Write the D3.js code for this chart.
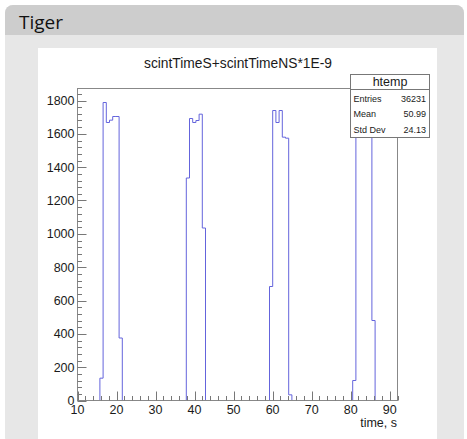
<!DOCTYPE html>
<html><head><meta charset="utf-8">
<script src="https://cdn.jsdelivr.net/npm/d3@7"></script>
<style>
html,body{margin:0;padding:0;background:#fff;}
svg{display:block;}
</style></head>
<body>
<script>
// ---- data ----
const panelTitle = "Tiger";
const histTitle = "scintTimeS+scintTimeNS*1E-9";
const histName = "htemp";
const xAxisTitle = "time, s";
const xMin = 10, xMax = 92, nBins = 100;
// nonzero bins: index and count
const binIndex = [7, 8, 9, 10, 11, 12, 13,
                  34, 35, 36, 37, 38, 39,
                  60, 61, 62, 63, 64, 65, 66,
                  86, 87, 88, 89, 90, 91, 92];
const binCount = [134, 1788, 1668, 1682, 1704, 1704, 375,
                  1335, 1692, 1668, 1680, 1718, 1035,
                  684, 1740, 1668, 1740, 1580, 1574, 34,
                  120, 1700, 1670, 1690, 1665, 1704, 480];
const statLabels = ["Entries", "Mean", "Std Dev"];
const statValues = ["36231", "50.99", "24.13"];
const xTickValues = [10, 20, 30, 40, 50, 60, 70, 80, 90];
const yTickValues = [0, 200, 400, 600, 800, 1000, 1200, 1400, 1600, 1800];
const yMax = 1872;

const W = 467, H = 439;
const svg = d3.select("body").append("svg").attr("width", W).attr("height", H);

// panel
svg.append("rect").attr("x", 5).attr("y", 5).attr("width", 459).attr("height", 440)
  .attr("rx", 8).attr("fill", "#e7e7e7");
svg.append("path").attr("d", "M5,35 V13 A8,8 0 0 1 13,5 H456 A8,8 0 0 1 464,13 V35 Z").attr("fill", "#cdcdcd");
svg.append("text").attr("x", 19).attr("y", 29).text(panelTitle)
  .attr("font-family", "Open Sans, sans-serif").attr("font-size", 19).attr("fill", "#111");
svg.append("rect").attr("x", 38).attr("y", 48).attr("width", 399).attr("height", 400).attr("fill", "#fff");

// plot frame
const L = 77.5, R = 397.5, T = 88.5, B = 400.5;
const x = d3.scaleLinear().domain([xMin, xMax]).range([L, R]);
const y = d3.scaleLinear().domain([0, yMax]).range([B, T]);
const font = "Liberation Sans, Arial, sans-serif";

// histogram
const counts = new Array(nBins).fill(0);
binIndex.forEach((b, i) => counts[b] = binCount[i]);
const bw = (xMax - xMin) / nBins;
let pts = [[x(xMin), y(0)]];
counts.forEach((c, i) => {
  const x0 = x(xMin + i * bw), x1 = x(xMin + (i + 1) * bw);
  pts.push([x0, y(c)]); pts.push([x1, y(c)]);
});
pts.push([x(xMax), y(0)]);
svg.append("path").attr("d", d3.line()(pts)).attr("fill", "none")
  .attr("stroke", "#6464dc").attr("stroke-width", 1);

// frame
svg.append("rect").attr("x", L).attr("y", T).attr("width", R - L).attr("height", B - T)
  .attr("fill", "none").attr("stroke", "#888").attr("stroke-width", 1);

// y axis ticks
const yMinor = d3.range(0, yMax, 40);
svg.append("g").selectAll("line").data(yMinor).join("line")
  .attr("x1", L).attr("x2", d => L + (d % 200 === 0 ? 9 : 4.5))
  .attr("y1", d => Math.round(y(d)) + 0.5).attr("y2", d => Math.round(y(d)) + 0.5)
  .attr("stroke", "#777");
svg.append("g").selectAll("text").data(yTickValues).join("text")
  .attr("x", 74.5).attr("y", d => y(d)).attr("dy", "0.36em").attr("text-anchor", "end")
  .attr("font-family", font).attr("font-size", 12.5).attr("fill", "#1a1a1a").text(d => d);

// x axis ticks
const xMinor = d3.range(10, xMax + 0.01, 2);
svg.append("g").selectAll("line").data(xMinor).join("line")
  .attr("x1", d => Math.round(x(d)) + 0.5).attr("x2", d => Math.round(x(d)) + 0.5)
  .attr("y1", B).attr("y2", d => B - (d % 10 === 0 ? 9 : 4.5))
  .attr("stroke", "#777");
svg.append("g").selectAll("text").data(xTickValues).join("text")
  .attr("x", d => x(d)).attr("y", 414).attr("text-anchor", "middle")
  .attr("font-family", font).attr("font-size", 12.5).attr("fill", "#1a1a1a").text(d => d);
svg.append("text").attr("x", 397).attr("y", 426.5).attr("text-anchor", "end")
  .attr("font-family", font).attr("font-size", 12.5).attr("fill", "#1a1a1a").text(xAxisTitle);

// title
svg.append("text").attr("x", 238).attr("y", 68.3).attr("text-anchor", "middle")
  .attr("font-family", font).attr("font-size", 13.8).attr("fill", "#1a1a1a").text(histTitle);

// stats box
const sb = {x: 350.5, y: 74.5, w: 79, h: 63};
svg.append("rect").attr("x", sb.x).attr("y", sb.y).attr("width", sb.w).attr("height", sb.h)
  .attr("fill", "#fff").attr("stroke", "#777");
svg.append("line").attr("x1", sb.x).attr("x2", sb.x + sb.w).attr("y1", 89.5).attr("y2", 89.5).attr("stroke", "#777");
svg.append("text").attr("x", sb.x + sb.w / 2).attr("y", 86).attr("text-anchor", "middle")
  .attr("font-family", font).attr("font-size", 12.5).attr("fill", "#1a1a1a").text(histName);
const rowY = [101.5, 117.3, 133.2];
svg.append("g").selectAll("text").data(statLabels).join("text")
  .attr("x", 353.5).attr("y", (d, i) => rowY[i])
  .attr("font-family", font).attr("font-size", 9).attr("fill", "#1a1a1a").text(d => d);
svg.append("g").selectAll("text").data(statValues).join("text")
  .attr("x", 426).attr("y", (d, i) => rowY[i]).attr("text-anchor", "end")
  .attr("font-family", font).attr("font-size", 9).attr("fill", "#1a1a1a").text(d => d);
</script>
</body></html>
